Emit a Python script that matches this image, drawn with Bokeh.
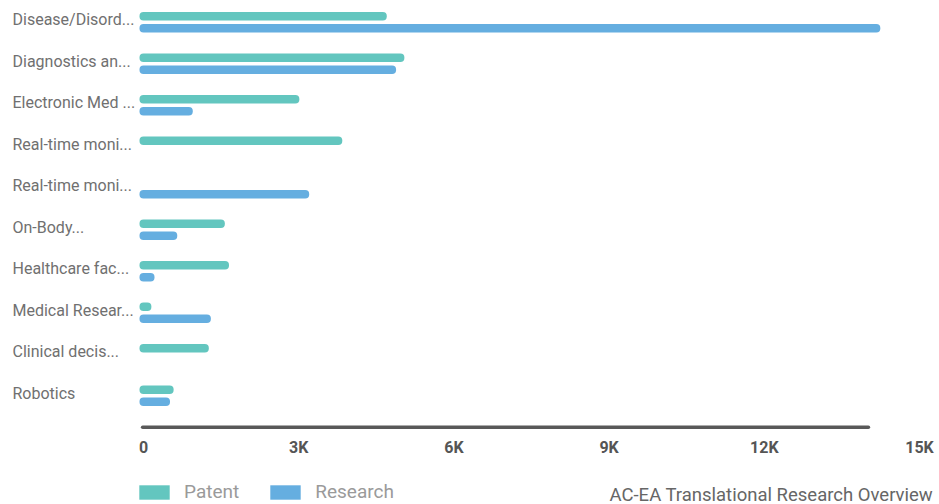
from bokeh.plotting import figure
from bokeh.models import (Range1d, Legend, LegendItem, Label, ColumnDataSource)
from bokeh.core.properties import value
from bokeh.embed import file_html
from bokeh.resources import INLINE

# ---- data -------------------------------------------------------------
categories = [
    "Disease/Disord...",
    "Diagnostics an...",
    "Electronic Med ...",
    "Real-time moni...",
    "Real-time moni...",
    "On-Body...",
    "Healthcare fac...",
    "Medical Resear...",
    "Clinical decis...",
    "Robotics",
]
patent = [4780, 5120, 3090, 3920, 0, 1650, 1730, 230, 1340, 660]
research = [14320, 4960, 1030, 0, 3280, 730, 290, 1380, 0, 590]
tick_values = [0, 3000, 6000, 9000, 12000, 15000]
tick_labels = ["0", "3K", "6K", "9K", "12K", "15K"]
title_text = "AC-EA Translational Research Overview"

# ---- layout / styling -------------------------------------------------
W, H = 939, 504
X0_PX, X_MAX_PX = 139, 915      # pixel columns of 0 and of the axis maximum
X_MAX = 15000
ROW_PX, TOP_PX = 41.5, 1         # height of one category row, top padding
PATENT_COLOR = "#63C6BF"
RESEARCH_COLOR = "#65AEE0"
FONT = "Roboto"
BAR_H = 0.205                    # bar thickness in row units
DODGE = 0.145                    # offset of each series from the row centre

px_per_unit = (X_MAX_PX - X0_PX) / X_MAX

def y_at(px):
    """row coordinate of a pixel row"""
    return (px - TOP_PX) / ROW_PX

n = len(categories)
rows = [i + 0.5 for i in range(n)]

def series_source(vals, shift):
    keep = [i for i, v in enumerate(vals) if v > 0]
    return ColumnDataSource(dict(
        y=[rows[i] + shift for i in keep],
        right=[vals[i] for i in keep],
    ))

p = figure(width=W, height=H,
           x_range=Range1d(-X0_PX / px_per_unit, (W - X0_PX) / px_per_unit),
           y_range=Range1d(y_at(H), y_at(0)),
           x_axis_location=None, y_axis_location=None,
           output_backend="svg", toolbar_location=None, min_border=0)
p.outline_line_color = None
p.grid.visible = False
p.background_fill_color = "white"
p.border_fill_color = "white"

rp = p.hbar(y="y", left=0, right="right", height=BAR_H,
            source=series_source(patent, -DODGE),
            fill_color=PATENT_COLOR, line_color=None, border_radius=4)
rr = p.hbar(y="y", left=0, right="right", height=BAR_H,
            source=series_source(research, DODGE),
            fill_color=RESEARCH_COLOR, line_color=None, border_radius=4)

# value axis: baseline and tick labels
p.segment(x0=60, x1=14090, y0=y_at(426.7), y1=y_at(426.7),
          line_color="#595959", line_width=3.5, line_cap="round")
p.text(x=tick_values, y=[y_at(446.5)] * len(tick_values), text=tick_labels,
       x_offset=4, text_align="center", text_baseline="middle",
       text_font=value(FONT), text_font_size="16px", text_font_style="bold",
       text_color="#555555")

# category labels, left aligned
p.text(x=[0] * n, y=rows, text=categories, x_offset=-(X0_PX - 12),
       y_offset=-2.5, text_align="left", text_baseline="middle",
       text_font=value(FONT), text_font_size="16px", text_color="#707070")

legend = Legend(items=[LegendItem(label="Patent", renderers=[rp]),
                       LegendItem(label="Research", renderers=[rr])],
                location=(135, 1), orientation="horizontal",
                glyph_width=38, glyph_height=18, label_height=18,
                label_width=0, label_standoff=11, spacing=27,
                padding=0, margin=0, border_line_color=None,
                background_fill_alpha=0,
                label_text_font=FONT, label_text_font_size="19px",
                label_text_color="#9a9a9a")
p.add_layout(legend)

p.add_layout(Label(x=609, y=10, x_units="screen", y_units="screen",
                   text=title_text, text_font=FONT, text_font_size="18.5px",
                   text_color="#666666", text_align="left",
                   text_baseline="alphabetic"))

open("out.html", "w").write(file_html(p, INLINE))
